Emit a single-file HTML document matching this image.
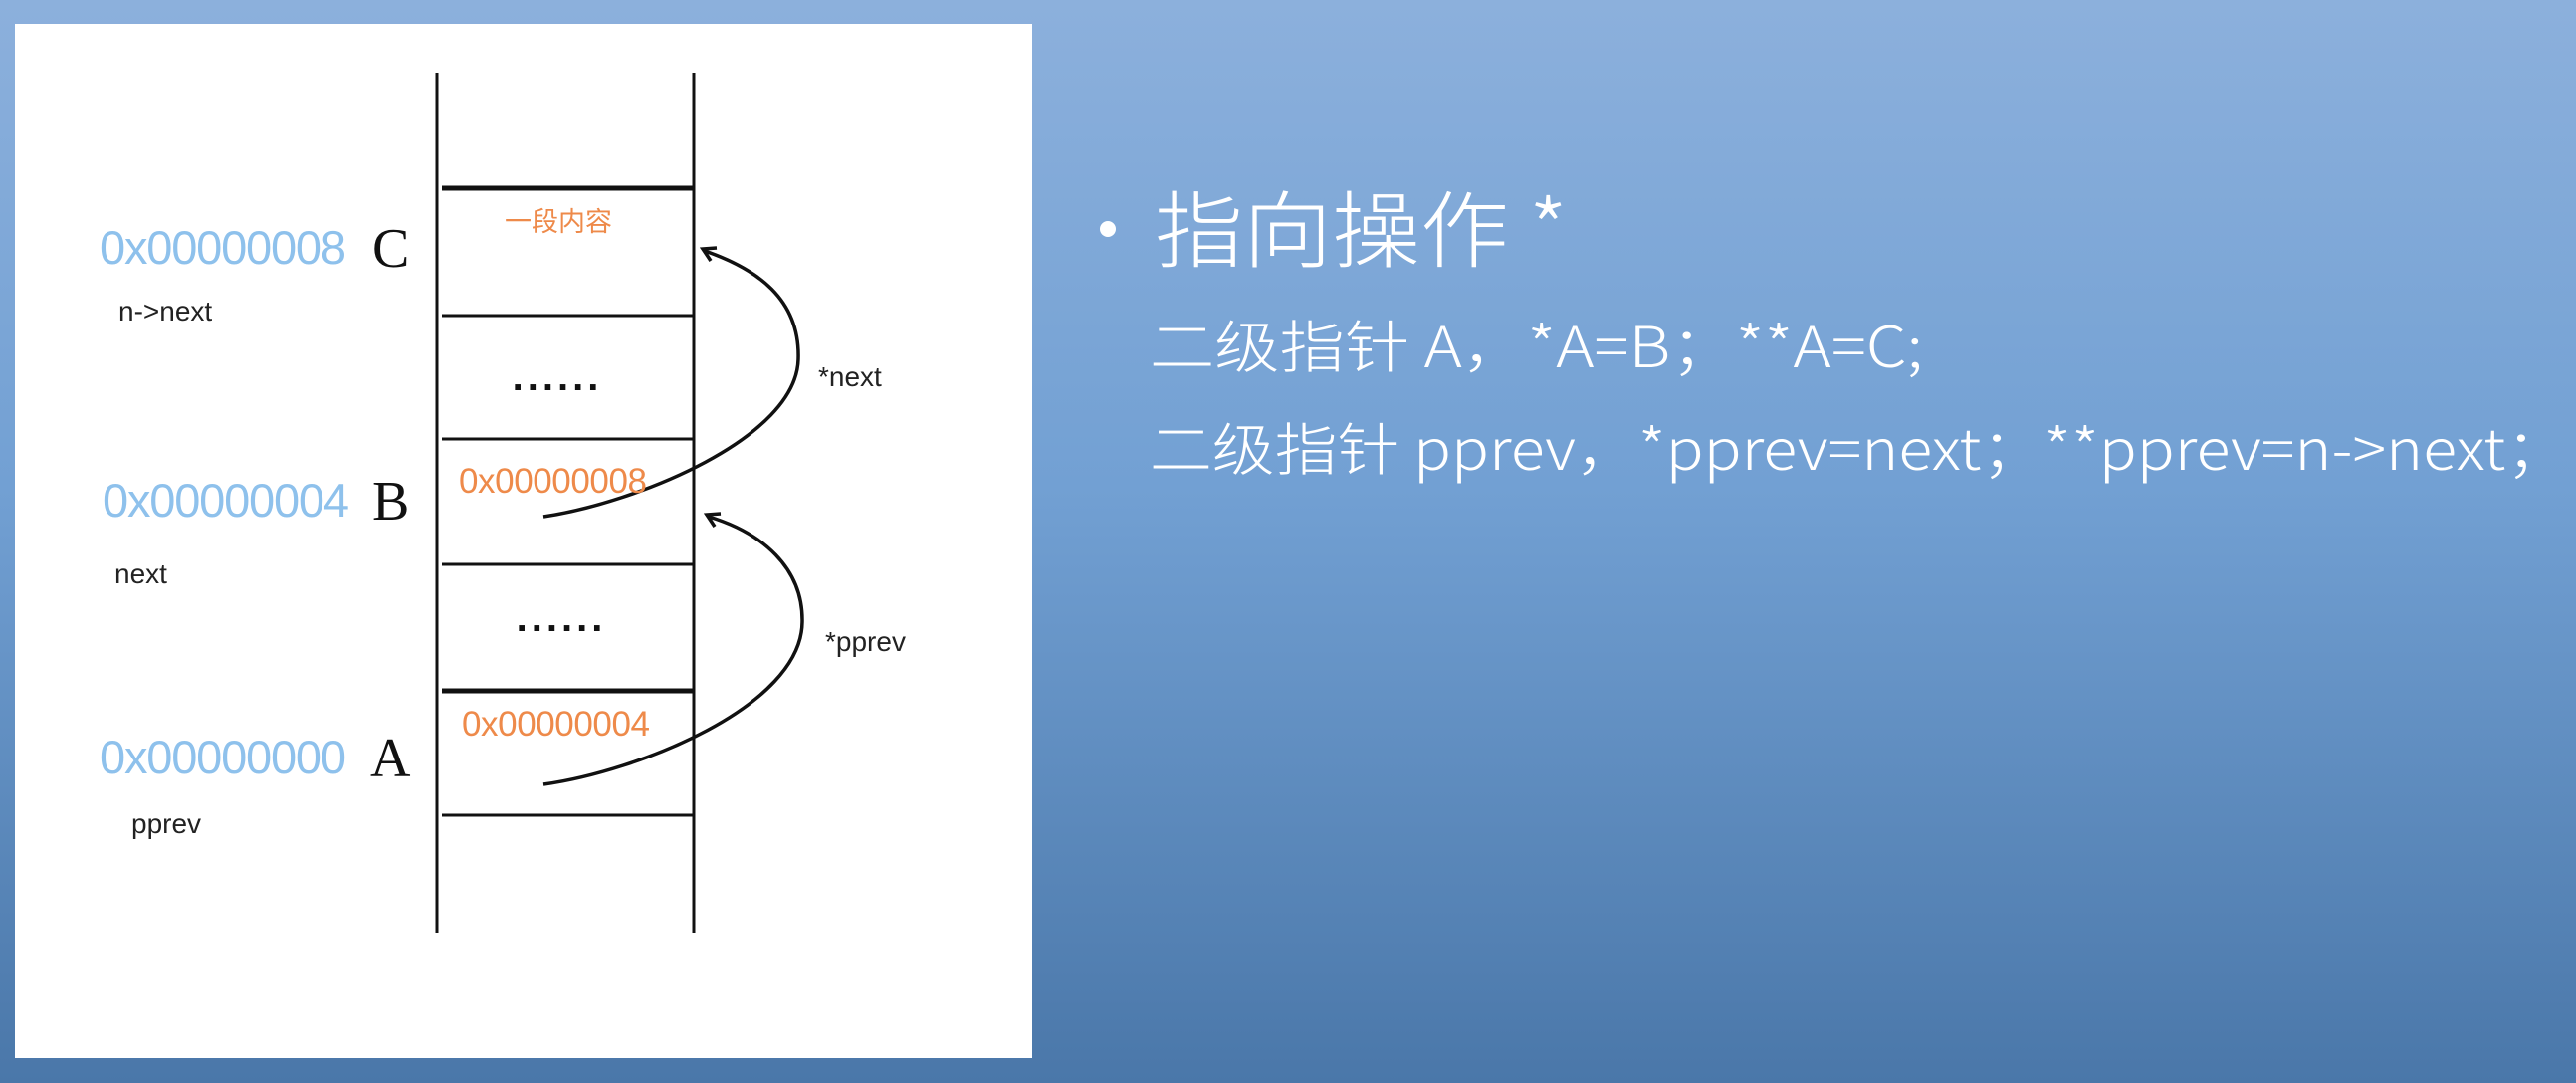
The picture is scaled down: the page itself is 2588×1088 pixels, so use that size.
<!DOCTYPE html>
<html><head><meta charset="utf-8"><style>
html,body{margin:0;padding:0;}
body{width:2588px;height:1088px;overflow:hidden;background:linear-gradient(#8cb0dc,#6e9cd0 45%,#4a77a9);}
svg{display:block}
</style></head><body>
<svg width="2588" height="1088" viewBox="0 0 2588 1088" xmlns="http://www.w3.org/2000/svg">
<defs>
<linearGradient id="bg" x1="0" y1="0" x2="0" y2="1">
<stop offset="0" stop-color="#8cb0dc"/><stop offset="0.45" stop-color="#72a0d3"/><stop offset="1" stop-color="#4a77a9"/>
</linearGradient>
</defs>
<rect width="2588" height="1088" fill="url(#bg)"/>
<rect x="15" y="24" width="1022" height="1039" fill="#fff"/>
<g stroke="#111" fill="none">
<line x1="439" y1="73" x2="439" y2="937" stroke-width="3"/>
<line x1="697" y1="73" x2="697" y2="937" stroke-width="3"/>
<line x1="444" y1="189" x2="697" y2="189" stroke-width="5"/>
<line x1="444" y1="317" x2="697" y2="317" stroke-width="3"/>
<line x1="444" y1="441" x2="697" y2="441" stroke-width="3"/>
<line x1="444" y1="567" x2="697" y2="567" stroke-width="3"/>
<line x1="444" y1="694" x2="697" y2="694" stroke-width="5"/>
<line x1="444" y1="819" x2="697" y2="819" stroke-width="3"/>
<path d="M546,519 C640,505 800,440 802,361 C804,300 760,270 708,252" stroke-width="3.5"/>
<path d="M546,788 C640,775 805,710 806,625 C807,570 765,535 712,519" stroke-width="3.5"/>
<path d="M720,249 L706,250 L714,262" stroke-width="3.5"/>
<path d="M724,516 L710,517 L718,529" stroke-width="3.5"/>
</g>
<g font-family="Liberation Sans, Noto Sans CJK SC, sans-serif">
<text x="561" y="232" font-size="27" fill="#ee8a4a" text-anchor="middle" font-family="Noto Sans CJK SC, sans-serif">一段内容</text>
<text x="560" y="392" font-size="40" fill="#111" text-anchor="middle" font-weight="bold" letter-spacing="4">......</text>
<text x="564" y="634" font-size="40" fill="#111" text-anchor="middle" font-weight="bold" letter-spacing="4">......</text>
<text x="461" y="495" font-size="35" fill="#ee8a4a" textLength="189">0x00000008</text>
<text x="464" y="739" font-size="35" fill="#ee8a4a" textLength="189">0x00000004</text>
<text x="100" y="265" font-size="47" fill="#8ec1ec" textLength="248">0x00000008</text>
<text x="103" y="519" font-size="47" fill="#8ec1ec" textLength="248">0x00000004</text>
<text x="100" y="777" font-size="47" fill="#8ec1ec" textLength="248">0x00000000</text>
<text x="374" y="268" font-size="56" fill="#111" font-family="Liberation Serif, serif">C</text>
<text x="374" y="522" font-size="56" fill="#111" font-family="Liberation Serif, serif">B</text>
<text x="372" y="780" font-size="56" fill="#111" font-family="Liberation Serif, serif">A</text>
<text x="119" y="322" font-size="28" fill="#222">n-&gt;next</text>
<text x="115" y="586" font-size="28" fill="#222">next</text>
<text x="132" y="837" font-size="28" fill="#222">pprev</text>
<text x="822" y="388" font-size="28" fill="#222">*next</text>
<text x="829" y="654" font-size="28" fill="#222">*pprev</text>
</g>
<g fill="#fff" font-family="Noto Sans CJK SC, sans-serif" font-weight="300">
<circle cx="1113" cy="230" r="8"/>
<text x="1160" y="262" font-size="84" textLength="415" lengthAdjust="spacingAndGlyphs">指向操作 *</text>
<text x="1155" y="369" font-size="57" textLength="777" lengthAdjust="spacingAndGlyphs">二级指针 A，*A=B；**A=C;</text>
<text x="1155" y="472" font-size="57" textLength="1425" lengthAdjust="spacingAndGlyphs">二级指针 pprev，*pprev=next；**pprev=n-&gt;next；</text>
</g>
</svg>
</body></html>
